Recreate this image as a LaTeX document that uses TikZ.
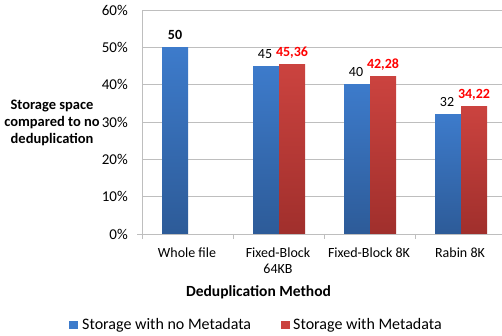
\documentclass[tikz,border=0pt]{standalone}
\usepackage{fontspec}
\setmainfont{Carlito}
\definecolor{barblue}{HTML}{3D7BCB}
\definecolor{barbluedark}{HTML}{2D5B98}
\definecolor{barred}{HTML}{CB433F}
\definecolor{barreddark}{HTML}{A02F2C}
\definecolor{gridgray}{HTML}{BEBEBE}
\definecolor{labelred}{HTML}{FF0000}

\begin{document}
\begin{tikzpicture}[x=1pt, y=1pt,
  bluebar/.style={top color=barblue, bottom color=barbluedark},
  redbar/.style={top color=barred, bottom color=barreddark},
  gridline/.style={draw=gridgray, line width=0.8pt},
  ticklabel/.style={anchor=east, inner sep=0pt, font=\fontsize{15}{17}\selectfont},
  catlabel/.style={anchor=north, align=center, inner sep=0pt, font=\fontsize{14}{16}\selectfont},
  bluevalue/.style={anchor=base, yshift=8pt, inner sep=0pt, font=\fontsize{14}{16}\selectfont},
  redvalue/.style={anchor=base, yshift=8pt, inner sep=0pt, text=labelred, font=\fontsize{14}{16}\selectfont\bfseries}]
\useasboundingbox (0,0) rectangle (502,336);

\begin{scope}[shift={(142pt,102pt)}, y=3.733pt]
\draw[gridline] (0,10) -- (360,10);
\draw[gridline] (0,20) -- (360,20);
\draw[gridline] (0,30) -- (360,30);
\draw[gridline] (0,40) -- (360,40);
\draw[gridline] (0,50) -- (360,50);
\draw[gridline] (0,60) -- (360,60);
\draw[gridline] (-5,0) -- (360,0);
\draw[gridline] (0,-1.35) -- (0,60);
\draw[gridline] (91,0) -- (91,-1.35);
\draw[gridline] (182,0) -- (182,-1.35);
\draw[gridline] (273,0) -- (273,-1.35);

\node[ticklabel](p0) at (-14,0) {0\%};
\node[ticklabel](p10) at (-14,10) {10\%};
\node[ticklabel](p20) at (-14,20) {20\%};
\node[ticklabel](p30) at (-14,30) {30\%};
\node[ticklabel](p40) at (-14,40) {40\%};
\node[ticklabel](p50) at (-14,50) {50\%};
\node[ticklabel](p60) at (-14,60) {60\%};

\shade[bluebar] (20,0) rectangle (46,50);
\shade[bluebar] (111,0) rectangle (137,45);
\shade[redbar] (137,0) rectangle (163,45.36);
\shade[bluebar] (202,0) rectangle (228,40);
\shade[redbar] (228,0) rectangle (254,42.28);
\shade[bluebar] (293,0) rectangle (319,32);
\shade[redbar] (319,0) rectangle (345,34.22);

\node[bluevalue, font=\fontsize{14}{16}\selectfont\bfseries](whole) at (33,50) {50};
\node[bluevalue](fixed64) at (123,45) {45};
\node[redvalue](fixed64m) at (150,45.36) {45,36};
\node[bluevalue](fixed8) at (214,40) {40};
\node[redvalue](fixed8m) at (241,42.28) {42,28};
\node[bluevalue](rabin) at (305,32) {32};
\node[redvalue](rabinm) at (332,34.22) {34,22};
\end{scope}

\node[align=center, font=\fontsize{14.5}{17}\selectfont\bfseries](ytitle) at (52,213) {Storage space\\compared to no\\deduplication};

\node[catlabel](c1) at (187,88.5) {Whole file};
\node[catlabel](c2) at (278,88.5) {Fixed-Block\\64KB};
\node[catlabel](c3) at (369,88.5) {Fixed-Block 8K};
\node[catlabel](c4) at (460,88.5) {Rabin 8K};

\node[font=\fontsize{15.5}{18}\selectfont\bfseries](xtitle) at (258.5,44) {Deduplication Method};

\fill[barblue] (69,7) rectangle (78,15);
\node[anchor=west, inner sep=0pt, font=\fontsize{16}{18}\selectfont](lblue) at (82,10.5) {Storage with no Metadata};
\fill[barred] (281,7) rectangle (290,15);
\node[anchor=west, inner sep=0pt, font=\fontsize{16}{18}\selectfont](lred) at (293,10.5) {Storage with Metadata};
\end{tikzpicture}
\end{document}
